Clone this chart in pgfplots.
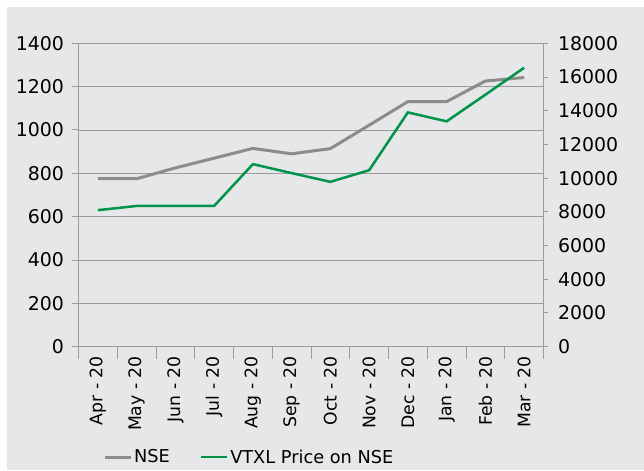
\documentclass[border=0pt]{standalone}
\usepackage{pgfplots}
\pgfplotsset{compat=1.18}
\usepackage{fontspec}
\setmainfont{DejaVu Sans}
\definecolor{bg}{HTML}{E6E7E8}
\definecolor{ax}{HTML}{9B9B9B}
\definecolor{nse}{HTML}{8C8C8C}
\definecolor{vtxl}{HTML}{00934A}
\begin{document}
\begin{tikzpicture}
\useasboundingbox (0,0) rectangle (644bp,471bp);
\fill[white] (0,0) rectangle (644bp,471bp);
\fill[bg] (7bp,1bp) rectangle (644bp,464bp);
\pgfplotsset{
 common/.style={
  scale only axis, width=465bp, height=303.4bp,
  at={(78.5bp,124.3bp)}, anchor=south west,
  xmin=-0.5, xmax=11.5,
  axis line style={draw=ax, line width=1pt},
  tick style={draw=ax, line width=1pt},
  tick align=outside,
  major tick length=6bp,
  yticklabel style={font=\fontsize{19}{22}\selectfont, text=black},
  /pgf/number format/assume math mode=true,
  /pgf/number format/1000 sep={},
  scaled y ticks=false,
 }
}
\begin{axis}[common,
  axis y line*=left, axis x line*=bottom,
  ymin=0, ymax=1400, ytick={0,200,...,1400},
  ymajorgrids, grid style={draw=ax, line width=0.8pt},
  xtick={0,...,11},
  xticklabels={Apr - 20,May - 20,Jun - 20,Jul - 20,Aug - 20,Sep - 20,Oct - 20,Nov - 20,Dec - 20,Jan - 20,Feb - 20,Mar - 20},
  major x tick style={draw=none},
  minor xtick={-0.5,0.5,...,11.5},
  minor x tick style={draw=ax, line width=1pt},
  minor tick length=12.5bp,
  xticklabel style={rotate=90, anchor=east, font=\fontsize{17.3}{20}\selectfont, text=black},
  yticklabel style={xshift=-5bp},
]
\addplot[nse, line width=3bp] coordinates {
(0,775) (1,775) (2,825) (3,870) (4,915) (5,890) (6,914) (7,1022) (8,1131) (9,1131) (10,1226) (11,1242)};
\end{axis}
\begin{axis}[common,
  axis y line*=right, axis x line=none,
  ymin=0, ymax=18000, ytick={0,2000,...,18000},
  major tick length=4bp,
  yticklabel style={xshift=7bp},
  legend style={at={(0.367,-0.364)}, anchor=center, draw=none, fill=none,
    font=\fontsize{17.8}{20}\selectfont, legend columns=2,
    /tikz/every even column/.append style={column sep=28bp}},
  legend image code/.code={\draw[#1] (0bp,0bp) -- (26bp,0bp);},
]
\addlegendimage{nse, line width=3bp}\addlegendentry{NSE}
\addplot[vtxl, line width=2.5bp] coordinates {
(0,8100) (1,8350) (2,8350) (3,8350) (4,10830) (5,10300) (6,9780) (7,10470) (8,13900) (9,13370) (10,14950) (11,16550)};
\addlegendentry{VTXL Price on NSE}
\end{axis}
\end{tikzpicture}
\end{document}
